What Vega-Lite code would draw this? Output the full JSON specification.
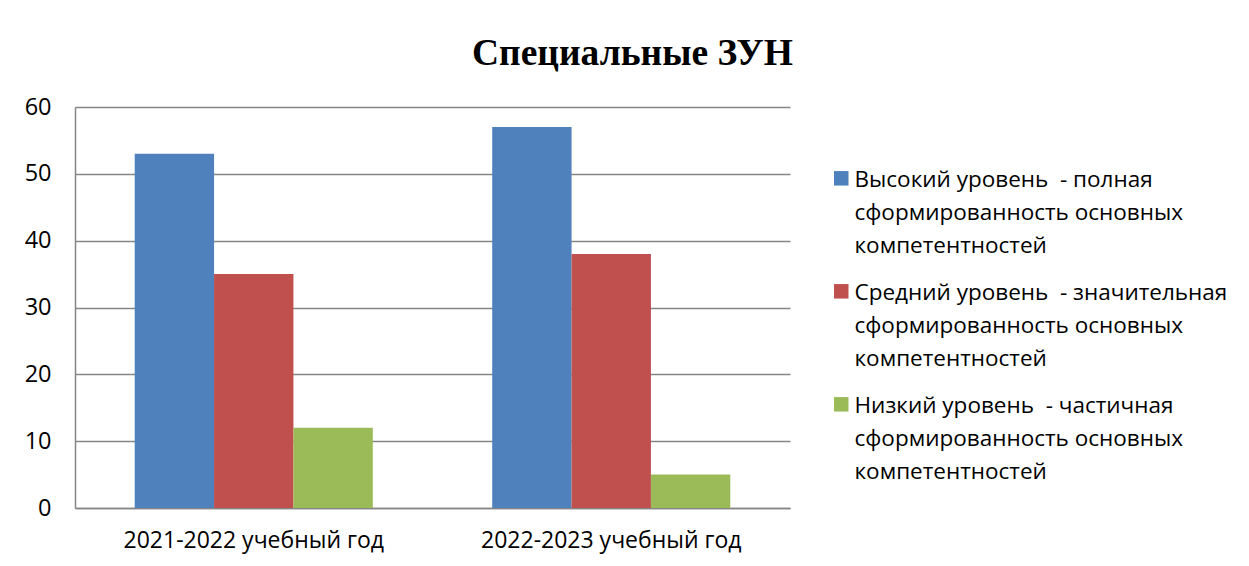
{
  "$schema": "https://vega.github.io/schema/vega-lite/v6.json",
  "autosize": "none",
  "width": 715,
  "height": 401,
  "padding": {"left": 75, "top": 107, "right": 459, "bottom": 58},
  "background": "white",
  "title": {
    "text": "Специальные ЗУН",
    "font": "Liberation Serif",
    "fontSize": 37.5,
    "fontWeight": "bold",
    "color": "black",
    "anchor": "middle",
    "frame": "group",
    "dx": 200,
    "offset": 23
  },
  "data": {
    "values": [
      {"year": "2021-2022 учебный год", "level": "Высокий уровень  - полная сформированность основных компетентностей", "value": 53},
      {"year": "2021-2022 учебный год", "level": "Средний уровень  - значительная сформированность основных компетентностей", "value": 35},
      {"year": "2021-2022 учебный год", "level": "Низкий уровень  - частичная сформированность основных компетентностей", "value": 12},
      {"year": "2022-2023 учебный год", "level": "Высокий уровень  - полная сформированность основных компетентностей", "value": 57},
      {"year": "2022-2023 учебный год", "level": "Средний уровень  - значительная сформированность основных компетентностей", "value": 38},
      {"year": "2022-2023 учебный год", "level": "Низкий уровень  - частичная сформированность основных компетентностей", "value": 5}
    ]
  },
  "mark": {"type": "bar"},
  "encoding": {
    "x": {
      "field": "year",
      "type": "nominal",
      "sort": null,
      "scale": {"paddingInner": 0.334, "paddingOuter": 0.167},
      "axis": {
        "title": null,
        "labelAngle": 0,
        "labelFont": "Open Sans",
        "labelFontSize": 23,
        "labelLimit": 500,
        "labelColor": "black",
        "labelPadding": 21,
        "ticks": false,
        "domainColor": "#868686",
        "domainWidth": 1.5
      }
    },
    "xOffset": {
      "field": "level",
      "type": "nominal",
      "sort": null,
      "scale": {"paddingInner": 0, "paddingOuter": 0}
    },
    "y": {
      "field": "value",
      "type": "quantitative",
      "scale": {"domain": [0, 60], "nice": false},
      "axis": {
        "title": null,
        "values": [0, 10, 20, 30, 40, 50, 60],
        "labelFont": "Open Sans",
        "labelFontSize": 23.5,
        "labelColor": "black",
        "labelPadding": 24,
        "ticks": false,
        "grid": true,
        "gridColor": "#868686",
        "gridWidth": 1.5,
        "domainColor": "#868686",
        "domainWidth": 1.5
      }
    },
    "color": {
      "field": "level",
      "type": "nominal",
      "sort": null,
      "scale": {"range": ["#4F81BD", "#C0504D", "#9BBB59"]},
      "legend": {
        "title": null,
        "orient": "none",
        "legendX": 755,
        "legendY": 51,
        "padding": 0,
        "symbolType": "M-1,0.25H1V2.25H-1Z",
        "symbolSize": 210,
        "symbolStrokeWidth": 0,
        "labelFont": "Open Sans",
        "labelFontSize": 22.5,
        "labelColor": "black",
        "labelLimit": 600,
        "labelOffset": 2,
        "rowPadding": 13,
        "labelBaseline": "top",
        "labelExpr": "split(replace(replace(replace(datum.label, '  -', ' \u00a0-'), ' сформированность', '|сформированность'), ' компетентностей', '|компетентностей'), '|')",
        "encode": {
          "labels": {"update": {"lineHeight": {"value": 33}}}
        }
      }
    }
  },
  "config": {
    "view": {"stroke": null}
  }
}
